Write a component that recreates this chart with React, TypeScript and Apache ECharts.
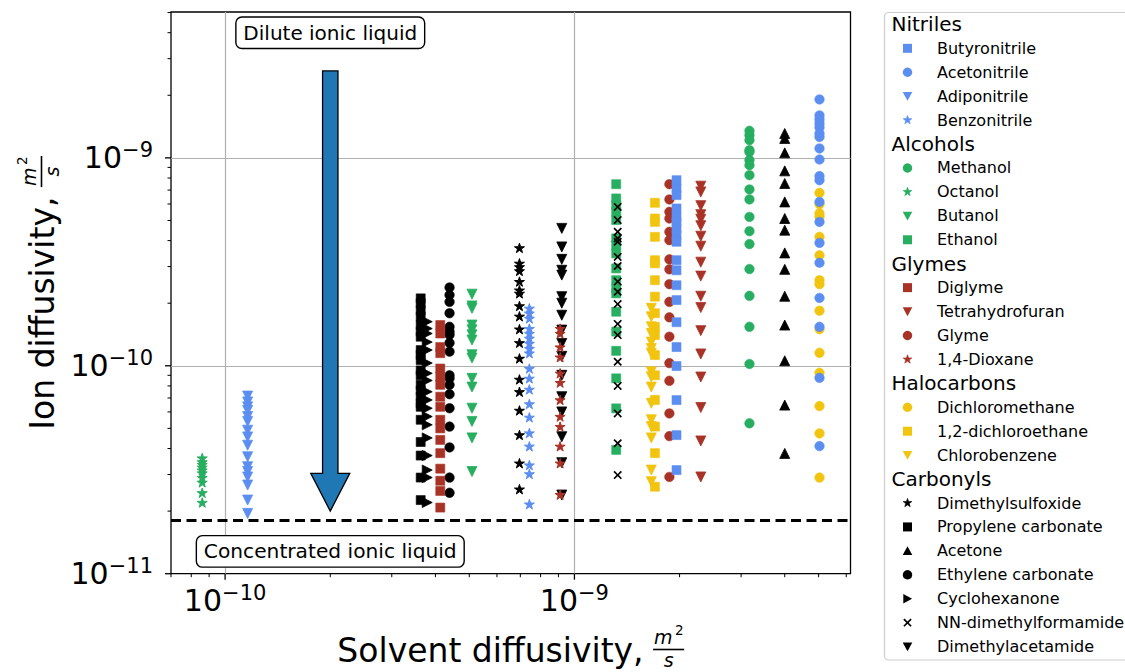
import React, { useEffect, useRef } from 'react';
import * as echarts from 'echarts';

// ---------------- data (solvent diffusivity x, ion diffusivity y), m^2/s ----------------
const butyronitrileX = 1.96e-9;
const butyronitrileY = [7.81e-10, 7.13e-10, 6.62e-10, 5.71e-10, 5.2e-10, 4.92e-10, 4.58e-10, 4.25e-10, 3.95e-10, 3.22e-10, 2.88e-10, 2.44e-10, 2.07e-10, 1.62e-10, 1.23e-10, 9.97e-11, 6.84e-11, 4.64e-11, 3.15e-11];
const acetonitrileX = 5.03e-9;
const acetonitrileY = [1.91e-9, 1.6e-9, 1.53e-9, 1.46e-9, 1.4e-9, 1.31e-9, 1.26e-9, 1.11e-9, 9.82e-10, 8.17e-10, 7.81e-10, 6.14e-10, 4.92e-10, 3.9e-10, 3.13e-10, 2.12e-10, 1.54e-10, 8.75e-11, 4.11e-11];
const adiponitrileX = 1.16e-10;
const adiponitrileY = [7.15e-11, 6.7e-11, 6.35e-11, 6.1e-11, 5.7e-11, 5.4e-11, 4.9e-11, 4.55e-11, 4.15e-11, 3.65e-11, 3.27e-11, 3.1e-11, 2.92e-11, 2.67e-11, 2.26e-11, 1.95e-11];
const benzonitrileX = 7.43e-10;
const benzonitrileY = [1.89e-10, 1.79e-10, 1.69e-10, 1.51e-10, 1.43e-10, 1.355e-10, 1.28e-10, 1.21e-10, 1.15e-10, 9.7e-11, 8.7e-11, 7.7e-11, 6.55e-11, 5.65e-11, 4.75e-11, 4.1e-11, 3.33e-11, 3.02e-11, 2.16e-11];

const methanolX = 3.17e-9;
const methanolY = [1.349e-9, 1.286e-9, 1.216e-9, 1.089e-9, 1.068e-9, 9.75e-10, 9.22e-10, 8.26e-10, 7.05e-10, 6.31e-10, 5.2e-10, 4.44e-10, 3.85e-10, 2.92e-10, 2.17e-10, 1.54e-10, 1.02e-10, 5.29e-11];
const octanolX = 8.6e-11;
const octanolY = [3.6e-11, 3.45e-11, 3.35e-11, 3.25e-11, 3.15e-11, 3.05e-11, 2.9e-11, 2.75e-11, 2.45e-11, 2.2e-11];
const butanolX = 5.09e-10;
const butanolY = [2.21e-10, 1.94e-10, 1.89e-10, 1.57e-10, 1.49e-10, 1.41e-10, 1.33e-10, 1.13e-10, 1.09e-10, 8.7e-11, 7.9e-11, 6.25e-11, 5.4e-11, 4.5e-11, 3.1e-11];
const ethanolX = 1.317e-9;
const ethanolY = [7.47e-10, 6.38e-10, 5.92e-10, 5.5e-10, 5.02e-10, 4.1e-10, 3.8e-10, 3.47e-10, 2.94e-10, 2.58e-10, 2.36e-10, 2.23e-10, 1.82e-10, 1.46e-10, 1.18e-10, 8.7e-11, 6.24e-11, 3.94e-11];

const diglymeX = 4.13e-10;
const diglymeY = [1.57e-10, 1.43e-10, 1.23e-10, 1.15e-10, 9.7e-11, 8.85e-11, 8.1e-11, 7.1e-11, 6.35e-11, 5.5e-11, 5.0e-11, 4.4e-11, 3.8e-11, 3.2e-11, 2.8e-11, 2.5e-11, 2.08e-11];
const thfX = 2.3e-9;
const thfY = [7.31e-10, 6.86e-10, 5.89e-10, 5.33e-10, 5.07e-10, 4.72e-10, 4.2e-10, 3.76e-10, 3.15e-10, 2.7e-10, 2.16e-10, 1.905e-10, 1.476e-10, 1.14e-10, 8.83e-11, 6.3e-11, 4.35e-11, 2.92e-11];
const glymeX = 1.87e-9;
const glymeY = [7.47e-10, 6.31e-10, 5.5e-10, 5.11e-10, 4.41e-10, 4.02e-10, 3.25e-10, 2.91e-10, 2.47e-10, 2.03e-10, 1.71e-10, 1.38e-10, 1.03e-10, 8.47e-11, 5.9e-11, 4.59e-11, 2.92e-11];
const dioxaneX = 9.1e-10;
const dioxaneY = [1.51e-10, 1.43e-10, 1.23e-10, 1.1e-10, 9.2e-11, 8.3e-11, 6.85e-11, 5.7e-11, 5.1e-11, 4.1e-11, 3.4e-11, 2.4e-11];

const dcmX = 5.03e-9;
const dcmY = [6.79e-10, 5.99e-10, 5.41e-10, 5.2e-10, 4.17e-10, 3.4e-10, 2.58e-10, 2.47e-10, 1.84e-10, 1.5e-10, 1.155e-10, 9.25e-11, 6.4e-11, 4.73e-11, 2.9e-11];
const dceX = 1.7e-9;
const dceY = [6.08e-10, 5.11e-10, 4.92e-10, 4.17e-10, 3.22e-10, 3.11e-10, 2.58e-10, 2.15e-10, 1.79e-10, 1.54e-10, 1.405e-10, 1.126e-10, 9.0e-11, 6.85e-11, 5.1e-11, 3.8e-11, 2.62e-11];
const chlorobenzeneX = 1.66e-9;
const chlorobenzeneY = [1.89e-10, 1.72e-10, 1.54e-10, 1.43e-10, 1.3e-10, 1.21e-10, 1.15e-10, 9.35e-11, 8.85e-11, 7.9e-11, 6.6e-11, 5.5e-11, 5.1e-11, 4.5e-11, 3.15e-11, 2.77e-11];

const dmsoX = 6.96e-10;
const dmsoY = [3.69e-10, 3.11e-10, 2.99e-10, 2.86e-10, 2.54e-10, 2.31e-10, 2.23e-10, 1.94e-10, 1.73e-10, 1.5e-10, 1.29e-10, 1.085e-10, 8.6e-11, 7.5e-11, 6.1e-11, 4.65e-11, 3.4e-11, 2.55e-11];
const pcX = 3.63e-10;
const pcY = [2.11e-10, 2.0e-10, 1.85e-10, 1.72e-10, 1.57e-10, 1.46e-10, 1.38e-10, 1.19e-10, 1.13e-10, 1.065e-10, 9.5e-11, 9.0e-11, 8.1e-11, 7.6e-11, 7.1e-11, 6.6e-11, 6.35e-11, 5.5e-11, 4.3e-11, 3.7e-11, 2.9e-11, 2.26e-11];
const acetoneX = 4.0e-9;
const acetoneY = [1.31e-9, 1.24e-9, 1.057e-9, 8.66e-10, 7.53e-10, 6.14e-10, 5.11e-10, 4.49e-10, 3.49e-10, 2.91e-10, 2.16e-10, 1.57e-10, 1.057e-10, 6.47e-11, 3.79e-11];
const ecX = 4.39e-10;
const ecY = [2.38e-10, 2.19e-10, 2.03e-10, 1.79e-10, 1.54e-10, 1.46e-10, 1.41e-10, 1.29e-10, 1.17e-10, 9.0e-11, 8.7e-11, 8.1e-11, 7.3e-11, 6.25e-11, 5.1e-11, 4.05e-11, 2.9e-11, 2.45e-11];
const cyclohexanoneX = 3.79e-10;
const cyclohexanoneY = [1.63e-10, 1.51e-10, 1.43e-10, 1.3e-10, 1.19e-10, 1.03e-10, 9.2e-11, 8.5e-11, 7.5e-11, 6.85e-11, 6.25e-11, 5.7e-11, 5.2e-11, 4.5e-11, 3.7e-11, 3.15e-11, 2.9e-11, 2.2e-11];
const dmfX = 1.33e-9;
const dmfY = [5.81e-10, 5.02e-10, 4.41e-10, 4.1e-10, 3.95e-10, 3.34e-10, 3.02e-10, 2.54e-10, 2.27e-10, 1.98e-10, 1.59e-10, 1.405e-10, 1.045e-10, 8.0e-11, 5.9e-11, 4.24e-11, 2.98e-11];
const dmacX = 9.2e-10;
const dmacY = [4.58e-10, 3.73e-10, 3.25e-10, 2.88e-10, 2.73e-10, 2.15e-10, 2.0e-10, 1.75e-10, 1.485e-10, 1.28e-10, 1.11e-10, 9.0e-11, 7.1e-11, 6.0e-11, 4.56e-11, 3.42e-11, 2.39e-11];

// axis ranges and tick values
const X_MIN = 7.0e-11;
const X_MAX = 6.17e-9;
const Y_MIN = 1e-11;
const Y_MAX = 5.03e-9;
const xMajorTicks = [1e-10, 1e-9];
const xMinorTicks = [7e-11, 8e-11, 9e-11, 2e-10, 3e-10, 4e-10, 5e-10, 6e-10, 7e-10, 8e-10, 9e-10, 2e-9, 3e-9, 4e-9, 5e-9, 6e-9];
const yMajorTicks = [1e-11, 1e-10, 1e-9];
const yMinorTicks = [2e-11, 3e-11, 4e-11, 5e-11, 6e-11, 7e-11, 8e-11, 9e-11, 2e-10, 3e-10, 4e-10, 5e-10, 6e-10, 7e-10, 8e-10, 9e-10, 2e-9, 3e-9, 4e-9, 5e-9];

// annotations (data coordinates)
const concentratedLimit = 1.8e-11;
const arrowX = 2e-10;
const arrowTop = 2.62e-9;
const arrowTip = 2.0e-11;
const diluteLabelY = 4.0e-9;
const concentratedLabelY = 1.28e-11;

// ---------------- styles ----------------
const BLUE = '#5b8ef0';
const GREEN = '#27ae60';
const RED = '#a93226';
const YELLOW = '#f1c40f';
const BLACK = '#000000';
const FONT = 'DejaVu Sans';

type Marker = 'o' | 's' | 'v' | '^' | '>' | '*' | 'x';
interface Spec { name: string; x: number; y: number[]; marker: Marker; color: string; }

const SPECS: Spec[] = [
  { name: 'Methanol', x: methanolX, y: methanolY, marker: 'o', color: GREEN },
  { name: 'Octanol', x: octanolX, y: octanolY, marker: '*', color: GREEN },
  { name: 'Butanol', x: butanolX, y: butanolY, marker: 'v', color: GREEN },
  { name: 'Ethanol', x: ethanolX, y: ethanolY, marker: 's', color: GREEN },
  { name: 'Dichloromethane', x: dcmX, y: dcmY, marker: 'o', color: YELLOW },
  { name: '1,2-dichloroethane', x: dceX, y: dceY, marker: 's', color: YELLOW },
  { name: 'Chlorobenzene', x: chlorobenzeneX, y: chlorobenzeneY, marker: 'v', color: YELLOW },
  { name: 'Dimethylsulfoxide', x: dmsoX, y: dmsoY, marker: '*', color: BLACK },
  { name: 'Propylene carbonate', x: pcX, y: pcY, marker: 's', color: BLACK },
  { name: 'Acetone', x: acetoneX, y: acetoneY, marker: '^', color: BLACK },
  { name: 'Ethylene carbonate', x: ecX, y: ecY, marker: 'o', color: BLACK },
  { name: 'Cyclohexanone', x: cyclohexanoneX, y: cyclohexanoneY, marker: '>', color: BLACK },
  { name: 'NN-dimethylformamide', x: dmfX, y: dmfY, marker: 'x', color: BLACK },
  { name: 'Dimethylacetamide', x: dmacX, y: dmacY, marker: 'v', color: BLACK },
  { name: 'Diglyme', x: diglymeX, y: diglymeY, marker: 's', color: RED },
  { name: 'Tetrahydrofuran', x: thfX, y: thfY, marker: 'v', color: RED },
  { name: 'Glyme', x: glymeX, y: glymeY, marker: 'o', color: RED },
  { name: '1,4-Dioxane', x: dioxaneX, y: dioxaneY, marker: '*', color: RED },
  { name: 'Butyronitrile', x: butyronitrileX, y: butyronitrileY, marker: 's', color: BLUE },
  { name: 'Acetonitrile', x: acetonitrileX, y: acetonitrileY, marker: 'o', color: BLUE },
  { name: 'Adiponitrile', x: adiponitrileX, y: adiponitrileY, marker: 'v', color: BLUE },
  { name: 'Benzonitrile', x: benzonitrileX, y: benzonitrileY, marker: '*', color: BLUE },
];

const GROUPS: [string, string[]][] = [
  ['Nitriles', ['Butyronitrile', 'Acetonitrile', 'Adiponitrile', 'Benzonitrile']],
  ['Alcohols', ['Methanol', 'Octanol', 'Butanol', 'Ethanol']],
  ['Glymes', ['Diglyme', 'Tetrahydrofuran', 'Glyme', '1,4-Dioxane']],
  ['Halocarbons', ['Dichloromethane', '1,2-dichloroethane', 'Chlorobenzene']],
  ['Carbonyls', ['Dimethylsulfoxide', 'Propylene carbonate', 'Acetone', 'Ethylene carbonate', 'Cyclohexanone', 'NN-dimethylformamide', 'Dimethylacetamide']],
];

const STAR_PATH = 'path://M0,-1 L0.2245,-0.309 L0.951,-0.309 L0.3633,0.118 L0.5878,0.809 L0,0.382 L-0.5878,0.809 L-0.3633,0.118 L-0.951,-0.309 L-0.2245,-0.309 Z';
const DOWN_PATH = 'path://M-1,-1 L1,-1 L0,1 Z';
const UP_PATH = 'path://M0,-1 L1,1 L-1,1 Z';
const RIGHT_PATH = 'path://M-1,-1 L1,0 L-1,1 Z';
const CROSS_PATH = 'path://M-1,-0.72 L-0.72,-1 L0,-0.28 L0.72,-1 L1,-0.72 L0.28,0 L1,0.72 L0.72,1 L0,0.28 L-0.72,1 L-1,0.72 L-0.28,0 Z';

// [symbol, size, border]
const SYMBOL: Record<Marker, [string, number, number]> = {
  o: ['circle', 9.5, 0.6],
  s: ['rect', 9, 0.6],
  v: [DOWN_PATH, 10, 0.8],
  '^': [UP_PATH, 10, 0.8],
  '>': [RIGHT_PATH, 10, 0.8],
  '*': [STAR_PATH, 10, 1],
  x: [CROSS_PATH, 8.5, 0],
};

function powLabel(v: number): string {
  const e = Math.log10(v);
  const r = Math.round(e);
  if (Math.abs(e - r) > 1e-6) return '';
  return '{b|10}{s|\u2212' + String(-r) + '}';
}

const labelRich = {
  b: { fontSize: 30, lineHeight: 36, fontFamily: FONT, color: '#000' },
  s: { fontSize: 21, lineHeight: 21, fontFamily: FONT, color: '#000', verticalAlign: 'top' },
};

function tickSeries(data: number[][], dir: 'x' | 'y') {
  return {
    type: 'custom',
    silent: true,
    clip: false,
    z: 6,
    data,
    renderItem: (_p: any, api: any) => {
      const pt = api.coord([api.value(0), api.value(1)]);
      const len = api.value(2);
      const shape = dir === 'x'
        ? { x1: pt[0], y1: pt[1], x2: pt[0], y2: pt[1] + len }
        : { x1: pt[0], y1: pt[1], x2: pt[0] - len, y2: pt[1] };
      return { type: 'line', shape, style: { stroke: '#000', lineWidth: len > 4 ? 1.3 : 1 } };
    },
  };
}

function legendMarker(m: Marker, cx: number, cy: number, color: string): any[] {
  const st = { fill: color };
  switch (m) {
    case 's': return [{ type: 'rect', z: 20, shape: { x: cx - 4.5, y: cy - 4.5, width: 9, height: 9 }, style: st }];
    case 'o': return [{ type: 'circle', z: 20, shape: { cx, cy, r: 4.7 }, style: st }];
    case 'v': return [{ type: 'polygon', z: 20, shape: { points: [[cx - 4.8, cy - 4.2], [cx + 4.8, cy - 4.2], [cx, cy + 4.6]] }, style: st }];
    case '^': return [{ type: 'polygon', z: 20, shape: { points: [[cx, cy - 4.6], [cx + 4.8, cy + 4.2], [cx - 4.8, cy + 4.2]] }, style: st }];
    case '>': return [{ type: 'polygon', z: 20, shape: { points: [[cx - 4.2, cy - 4.8], [cx + 4.6, cy], [cx - 4.2, cy + 4.8]] }, style: st }];
    case '*': {
      const pts: number[][] = [];
      for (let i = 0; i < 10; i++) {
        const a = -Math.PI / 2 + (i * Math.PI) / 5;
        const r = i % 2 === 0 ? 4.6 : 1.9;
        pts.push([cx + r * Math.cos(a), cy + r * Math.sin(a)]);
      }
      return [{ type: 'polygon', z: 20, shape: { points: pts }, style: { fill: color, stroke: color, lineWidth: 0.6 } }];
    }
    case 'x':
    default:
      return [
        { type: 'line', z: 20, shape: { x1: cx - 3.6, y1: cy - 3.6, x2: cx + 3.6, y2: cy + 3.6 }, style: { stroke: color, lineWidth: 1.7 } },
        { type: 'line', z: 20, shape: { x1: cx - 3.6, y1: cy + 3.6, x2: cx + 3.6, y2: cy - 3.6 }, style: { stroke: color, lineWidth: 1.7 } },
      ];
  }
}

function txt(text: string, x: number, y: number, size: number, extra: any = {}): any {
  const style: any = {
    text, fontSize: size, fontFamily: FONT, fill: '#000',
    align: extra.align || 'left', textAlign: extra.align || 'left',
    verticalAlign: 'middle', textVerticalAlign: 'middle',
    fontStyle: extra.italic ? 'italic' : 'normal',
  };
  if (extra.lh) style.lineHeight = extra.lh;
  return { type: 'text', x, y, z: 20, style };
}

function measure(text: string, size: number): number {
  const c = document.createElement('canvas').getContext('2d');
  if (!c) return text.length * size * 0.58;
  c.font = `${size}px "${FONT}"`;
  return c.measureText(text).width;
}

// Axis title with an m^2/s fraction; origin = start of text, baseline at y = 0
function axisTitle(text: string): { children: any[]; width: number } {
  const MAIN = 33, FR = 19, SUP = 13.5;
  const wt = measure(text, MAIN);
  const fx = wt - 1;
  const mW = measure('m', FR);
  const fracW = mW + measure('2', SUP) + 4;
  const children = [
    txt(text, 0, -0.346 * MAIN, MAIN),
    txt('m', fx + 1, -18 - 0.346 * FR, FR, { italic: true, lh: 16 }),
    txt('2', fx + 2.5 + mW + 1, -27 - 0.346 * SUP, SUP, { lh: 12 }),
    { type: 'line', z: 20, shape: { x1: fx, y1: -12.5, x2: fx + fracW, y2: -12.5 }, style: { stroke: '#000', lineWidth: 1.6 } },
    txt('s', fx + fracW / 2, 4.5 - 0.346 * FR, FR, { italic: true, align: 'center', lh: 16 }),
  ];
  return { children, width: fx + fracW };
}

const GRID = { left: 171, top: 12, width: 679.5, height: 561.7 };

export default function App() {
  const ref = useRef<HTMLDivElement>(null);
  useEffect(() => {
    if (!ref.current) return;
    const chart = echarts.init(ref.current, null, { renderer: 'svg' });

    const scatter: any[] = SPECS.map((s) => ({
      type: 'scatter',
      name: s.name,
      symbol: SYMBOL[s.marker][0],
      symbolSize: SYMBOL[s.marker][1],
      symbolKeepAspect: true,
      itemStyle: { color: s.color, opacity: 1, borderColor: s.color, borderWidth: SYMBOL[s.marker][2] },
      data: s.y.map((v) => [s.x, v]),
      silent: true,
      z: 3,
    }));
    // horizontal dashed limit of the concentrated ionic liquid (explicit end coords: log axes)
    scatter[0].markLine = {
      silent: true, symbol: ['none', 'none'], animation: false,
      label: { show: false },
      lineStyle: { color: '#000', width: 3.2, type: [10, 5.5], opacity: 1 },
      emphasis: { disabled: true },
      data: [[{ coord: [X_MIN, concentratedLimit] }, { coord: [X_MAX, concentratedLimit] }]],
    };

    const option: any = {
      animation: false,
      backgroundColor: '#ffffff',
      grid: { ...GRID, show: true, borderColor: '#000', borderWidth: 1.3, backgroundColor: 'transparent', containLabel: false },
      xAxis: {
        type: 'log', logBase: 10, min: X_MIN, max: X_MAX,
        axisLine: { show: false }, axisTick: { show: false },
        splitLine: { show: true, showMinLine: false, showMaxLine: false, lineStyle: { color: '#b0b0b0', width: 1.2 } },
        axisLabel: { formatter: powLabel, rich: labelRich, margin: 9 },
      },
      yAxis: {
        type: 'log', logBase: 10, min: Y_MIN, max: Y_MAX,
        axisLine: { show: false }, axisTick: { show: false },
        splitLine: { show: true, showMinLine: false, showMaxLine: false, lineStyle: { color: '#b0b0b0', width: 1.2 } },
        axisLabel: { formatter: powLabel, rich: labelRich, margin: 18 },
      },
      series: [
        ...scatter,
        tickSeries([...xMajorTicks.map((v) => [v, Y_MIN, 6]), ...xMinorTicks.map((v) => [v, Y_MIN, 3.5])], 'x'),
        tickSeries([...yMajorTicks.map((v) => [X_MIN, v, 6]), ...yMinorTicks.map((v) => [X_MIN, v, 3.5])], 'y'),
      ],
    };
    chart.setOption(option);

    const px = (x: number, y: number) => chart.convertToPixel({ xAxisIndex: 0, yAxisIndex: 0 }, [x, y]) as number[];

    const graphics: any[] = [];

    // Arrow
    const top = px(arrowX, arrowTop);
    const tip = px(arrowX, arrowTip);
    const cx = tip[0];
    const hw = 7.7, headW = 19.5, headL = 37.7;
    graphics.push({
      type: 'polygon', z: 10,
      shape: { points: [[cx - hw, top[1]], [cx + hw, top[1]], [cx + hw, tip[1] - headL], [cx + headW, tip[1] - headL], [cx, tip[1]], [cx - headW, tip[1] - headL], [cx - hw, tip[1] - headL]] },
      style: { fill: '#1f77b4', stroke: '#000', lineWidth: 1.3 },
    });

    // Annotation boxes
    const boxes: [string, number, number, number][] = [
      ['Dilute ionic liquid', diluteLabelY, 20, 7.5],
      ['Concentrated ionic liquid', concentratedLabelY, 20.2, 7.5],
    ];
    boxes.forEach(([t, yv, fs, pad]) => {
      const c = px(arrowX, yv);
      const w = measure(t, fs) + 2 * pad;
      const h = 31.5;
      graphics.push({ type: 'rect', z: 19, shape: { x: c[0] - w / 2, y: c[1] - h / 2, width: w, height: h, r: 6 }, style: { fill: '#fff', stroke: '#000', lineWidth: 1.4 } });
      graphics.push(txt(t, c[0], c[1], fs, { align: 'center' }));
    });

    // Axis titles
    const cxPlot = GRID.left + GRID.width / 2;
    const cyPlot = GRID.top + GRID.height / 2;
    const xt = axisTitle('Solvent diffusivity, ');
    graphics.push({ type: 'group', x: cxPlot - xt.width / 2, y: 662, children: xt.children });
    const yt = axisTitle('Ion diffusivity, ');
    graphics.push({ type: 'group', x: 54, y: cyPlot + yt.width / 2, rotation: Math.PI / 2, children: yt.children });

    // Legend
    const specByName: Record<string, Spec> = {};
    SPECS.forEach((s) => { specByName[s.name] = s; });
    graphics.push({ type: 'rect', z: 15, shape: { x: 884.5, y: 12.5, width: 300, height: 647.5, r: 4 }, style: { fill: '#fff', stroke: '#cccccc', lineWidth: 1.2 } });
    let row = 0;
    const rowY = (k: number) => 24.4 + k * 23.93;
    GROUPS.forEach(([title, items]) => {
      graphics.push(txt(title, 891.5, rowY(row), 20));
      row++;
      items.forEach((name) => {
        const s = specByName[name];
        legendMarker(s.marker, 907.5, rowY(row), s.color).forEach((g) => graphics.push(g));
        graphics.push(txt(name, 937, rowY(row), 16));
        row++;
      });
    });

    chart.setOption({ graphic: graphics });

    return () => chart.dispose();
  }, []);

  return <div ref={ref} style={{ position: 'absolute', left: 0, top: 0, width: 1125, height: 672 }} />;
}
